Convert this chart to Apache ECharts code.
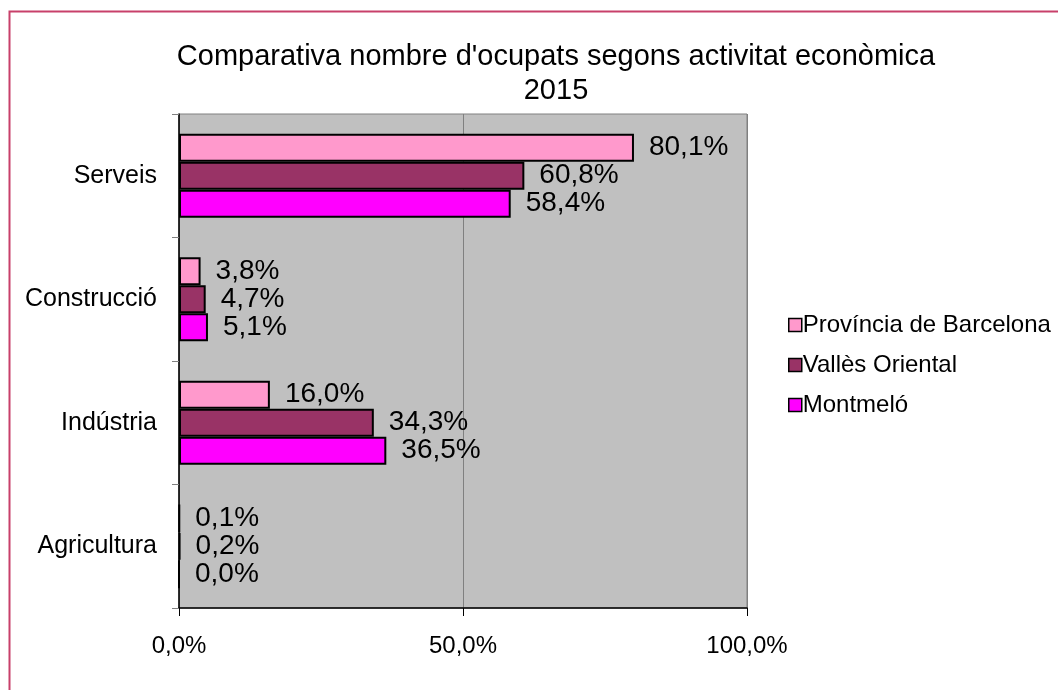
<!DOCTYPE html>
<html>
<head>
<meta charset="utf-8">
<script src="https://cdn.jsdelivr.net/npm/echarts@6/dist/echarts.min.js"></script>
<style>
html,body{margin:0;padding:0;background:#fff;}
#chart{width:1058px;height:690px;}
</style>
</head>
<body>
<div id="chart"></div>
<script>
const categories = ['Agricultura', 'Indústria', 'Construcció', 'Serveis'];
const seriesNames = ['Província de Barcelona', 'Vallès Oriental', 'Montmeló'];
const provincia = [0.1, 16.0, 3.8, 80.1];
const valles = [0.2, 34.3, 4.7, 60.8];
const montmelo = [0.0, 36.5, 5.1, 58.4];
const titleLines = ["Comparativa nombre d'ocupats segons activitat econòmica", '2015'];

const colors = ['#ff99cc', '#993366', '#ff00ff'];
const FONT = '"Liberation Sans", Arial, sans-serif';
const fmt = v => v.toFixed(1).replace('.', ',') + '%';

const chart = echarts.init(document.getElementById('chart'), null, {renderer: 'canvas'});

function mkSeries(name, data, color) {
  return {
    name: name,
    type: 'bar',
    data: data,
    barGap: '0%',
    barCategoryGap: '32%',
    itemStyle: {color: color, borderColor: '#000', borderWidth: 2},
    label: {
      show: true,
      position: 'right',
      distance: 15,
      color: '#000',
      fontSize: 28,
      fontFamily: FONT,
      formatter: p => fmt(p.value)
    },
    emphasis: {disabled: true},
    animation: false
  };
}

chart.setOption({
  animation: false,
  textStyle: {fontFamily: FONT},
  graphic: [
    {type: 'rect', left: 7, top: 9, shape: {width: 1200, height: 800},
     style: {fill: 'none', stroke: '#c8406a', lineWidth: 2}, z: 100, silent: true},
    {type: 'text', x: 556, y: 57, style: {text: titleLines[0], fill: '#000', font: '29px ' + FONT, textAlign: 'center', textVerticalAlign: 'middle'}},
    {type: 'text', x: 556, y: 91, style: {text: titleLines[1], fill: '#000', font: '29px ' + FONT, textAlign: 'center', textVerticalAlign: 'middle'}}
  ],
  legend: {
    orient: 'vertical',
    left: 783,
    top: 308,
    itemWidth: 13,
    itemHeight: 13,
    itemGap: 16,
    icon: 'rect',
    itemStyle: {borderColor: '#000', borderWidth: 1.5},
    textStyle: {fontSize: 24, color: '#000', fontFamily: FONT, padding: [0, 0, 0, -4]},
    data: seriesNames
  },
  grid: {
    left: 179, right: 311, top: 114, bottom: 82,
    show: true, backgroundColor: '#c0c0c0', borderColor: '#808080', borderWidth: 1
  },
  xAxis: {
    type: 'value',
    min: 0, max: 100, interval: 50,
    axisLine: {show: true, lineStyle: {color: '#000', width: 1.5}},
    axisTick: {show: true, length: 8, inside: false, lineStyle: {color: '#000'}},
    axisLabel: {fontSize: 24, color: '#000', margin: 26, fontFamily: FONT, formatter: v => v.toFixed(1).replace('.', ',') + '%'},
    splitLine: {show: true, lineStyle: {color: '#808080', width: 1}}
  },
  yAxis: {
    type: 'category',
    data: categories,
    axisLine: {show: true, lineStyle: {color: '#000', width: 1.5}},
    axisTick: {show: true, length: 7, lineStyle: {color: '#808080'}},
    axisLabel: {fontSize: 25, color: '#000', margin: 22, fontFamily: FONT},
    splitLine: {show: false}
  },
  series: [
    mkSeries(seriesNames[0], provincia, colors[0]),
    mkSeries(seriesNames[1], valles, colors[1]),
    mkSeries(seriesNames[2], montmelo, colors[2])
  ]
});
</script>
</body>
</html>
